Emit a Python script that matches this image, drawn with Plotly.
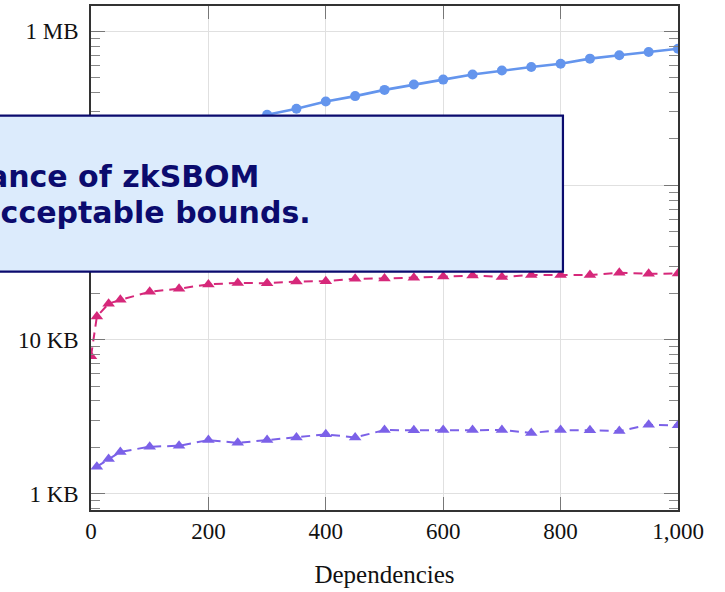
import plotly.graph_objects as go

# Data (sizes in bytes)
deps = [0, 10, 30, 50, 100, 150, 200, 250, 300, 350, 400, 450, 500,
        550, 600, 650, 700, 750, 800, 850, 900, 950, 1000]
deps_small = deps[1:]

proof_kb = [45, 70, 100, 120, 160, 195, 230, 260, 287, 314, 350, 379, 416,
            451, 485, 523, 555, 586, 615, 663, 697, 732, 769]
pink_kb = [7.8, 14.1, 17.1, 18.1, 20.4, 21.4, 22.8, 23.3, 23.2, 23.8, 23.9, 24.8, 24.9,
           25.2, 25.6, 26.0, 25.5, 26.2, 26.2, 26.2, 27.1, 26.7, 26.8]
purple_kb = [1.50, 1.68, 1.87, 2.02, 2.05, 2.23, 2.14, 2.23, 2.32, 2.43, 2.32, 2.59,
             2.58, 2.59, 2.59, 2.59, 2.48, 2.59, 2.58, 2.55, 2.80, 2.78]

ytick_vals = [1e3, 1e4, 1e5, 1e6]
ytick_text = ["1 KB", "10 KB", "100 KB", "1 MB"]
xtick_vals = [0, 200, 400, 600, 800, 1000]
xtick_text = ["0", "200", "400", "600", "800", "1,000"]

callout_lines = ["The performance of zkSBOM", "remains within acceptable bounds."]

BLUE = "#6495ED"
PINK = "#D6287A"
PURPLE = "#7B61E8"

fig = go.Figure()
fig.add_trace(go.Scatter(
    x=deps, y=[v * 1e3 for v in proof_kb], mode="lines+markers",
    line=dict(color=BLUE, width=2.6), marker=dict(symbol="circle", size=10, color=BLUE),
    showlegend=False))
fig.add_trace(go.Scatter(
    x=deps, y=[v * 1e3 for v in pink_kb], mode="lines+markers",
    line=dict(color=PINK, width=2, dash="9px,6px"),
    marker=dict(symbol="triangle-up", size=11, color=PINK),
    showlegend=False))
fig.add_trace(go.Scatter(
    x=deps_small, y=[v * 1e3 for v in purple_kb], mode="lines+markers",
    line=dict(color=PURPLE, width=2, dash="9px,6px"),
    marker=dict(symbol="triangle-up", size=11, color=PURPLE),
    showlegend=False))

serif = "Liberation Serif"
fig.update_layout(
    width=725, height=592,
    margin=dict(l=91, r=47, t=4, b=82),
    paper_bgcolor="white", plot_bgcolor="white",
    font=dict(family=serif, size=23, color="#111"),
)
fig.update_xaxes(
    range=[0, 1000], tickvals=xtick_vals, ticktext=xtick_text,
    showgrid=True, gridcolor="#e0e0e0", gridwidth=1,
    showline=True, linecolor="#333", linewidth=1.5, mirror="ticks",
    ticks="inside", ticklen=13, tickcolor="#777", tickwidth=1,
    zeroline=False,
    title=dict(text="Dependencies", font=dict(family=serif, size=25), standoff=22),
    tickfont=dict(family=serif, size=23),
)
fig.update_yaxes(
    type="log", range=[2.895, 6.163], tickvals=ytick_vals, ticktext=ytick_text,
    showgrid=True, gridcolor="#e0e0e0", gridwidth=1,
    showline=True, linecolor="#333", linewidth=1.5, mirror="ticks",
    ticks="inside", ticklen=14, tickcolor="#777", tickwidth=1,
    minor=dict(ticks="inside", ticklen=9, tickcolor="#888", dtick="D1", showgrid=False),
    zeroline=False, ticklabelstandoff=6,
    tickfont=dict(family=serif, size=23),
)

# Callout box (overlaps the plot, extends past the left edge)
fig.add_shape(type="rect", xref="paper", yref="paper",
              x0=-1.5, x1=0.804, y0=0.4729, y1=0.7826,
              fillcolor="#DCEBFC", line=dict(color="#0B0B6E", width=2.2), layer="above")
sans = "DejaVu Sans"
fig.add_annotation(xref="paper", yref="paper", x=(261 - 91) / 587, y=(510 - 175) / 506,
                   text="<b>" + callout_lines[0] + "</b>", showarrow=False,
                   xanchor="right", yanchor="middle",
                   font=dict(family=sans, size=30, color="#0B0B6E"))
fig.add_annotation(xref="paper", yref="paper", x=(313 - 91) / 587, y=(510 - 211) / 506,
                   text="<b>" + callout_lines[1] + "</b>", showarrow=False,
                   xanchor="right", yanchor="middle",
                   font=dict(family=sans, size=30, color="#0B0B6E"))

fig.write_html("out.html")
